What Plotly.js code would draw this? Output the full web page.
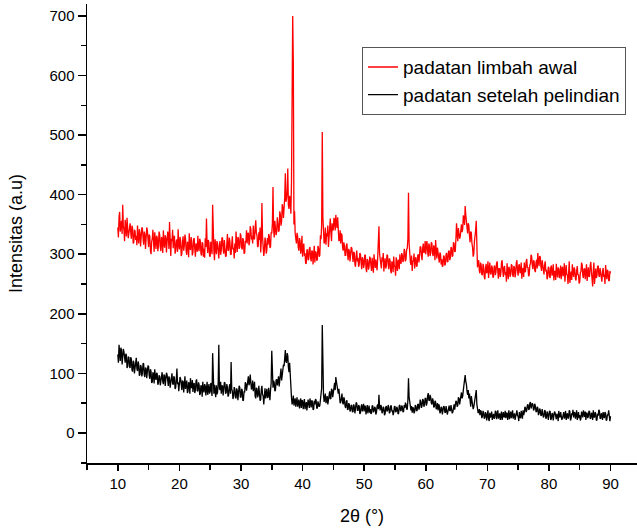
<!DOCTYPE html>
<html>
<head>
<meta charset="utf-8">
<script src="https://cdn.plot.ly/plotly-3.0.1.min.js"></script>
<style>html,body{margin:0;padding:0;background:#fff;}#chart{width:637px;height:532px;}</style>
</head>
<body>
<div id="chart"></div>
<script>
// 2-theta scan grid (degrees)
const scanStart = 10.0;
const scanStep = 0.1;

// padatan limbah awal (10.0 .. 90.0, step 0.1), one row per degree
const limbahAwal = [
345,328,362,371,338,350,356,334,383,347,
341,322,358,344,330,361,349,327,335,352,
352,337,326,348,344,318,320,341,339,324,
331,315,348,329,318,342,336,313,325,345,
343,327,316,338,333,309,322,345,340,318,
312,333,330,306,300,321,326,341,318,304,
337,316,309,331,328,305,314,338,333,312,
305,329,324,302,340,318,311,332,327,303,
316,338,333,309,354,318,297,326,322,341,
310,327,331,301,306,322,325,304,342,316,
308,329,322,297,301,320,330,306,314,333,
326,305,299,321,318,295,335,312,307,329,
320,298,303,325,327,309,296,318,316,304,
331,311,305,326,322,301,298,320,318,296,
309,294,327,312,360,318,302,324,319,297,
296,321,314,300,383,327,305,290,325,311,
300,322,318,304,293,315,322,299,306,327,
328,309,301,324,315,296,297,318,334,306,
307,328,322,300,299,317,330,308,311,293,
318,302,338,316,304,329,326,309,312,335,
330,311,308,327,324,301,302,321,321,340,
318,334,336,315,322,347,342,325,330,318,
348,326,325,344,357,335,332,312,314,337,
324,345,303,322,386,330,318,297,306,328,
322,301,307,327,316,334,330,311,312,337,
335,352,413,341,328,356,345,332,338,362,
352,338,340,372,366,348,355,384,378,361,
372,395,436,388,393,405,444,382,376,398,
392,368,420,560,700,620,350,372,335,324,
318,336,330,312,306,327,322,301,310,331,
296,311,318,297,302,284,285,307,308,290,
292,309,312,294,288,306,305,283,296,314,
286,305,303,289,291,314,310,296,298,332,
325,350,505,362,338,318,322,345,316,335,
330,348,312,327,345,360,336,322,352,340,
342,361,358,340,366,352,344,362,337,322,
325,340,318,335,332,311,306,320,314,298,
298,314,318,301,290,309,305,288,296,312,
310,295,287,304,302,283,279,297,306,288,
294,279,283,302,300,286,275,295,292,277,
282,299,298,276,270,292,289,274,279,296,
293,281,272,294,286,269,300,285,277,291,
284,273,295,316,347,301,290,278,276,295,
288,302,271,284,293,276,280,299,298,283,
275,293,290,273,268,288,285,270,296,280,
279,264,295,283,272,291,287,275,300,286,
284,302,298,287,290,309,305,288,292,308,
310,326,403,318,296,287,282,298,272,289,
288,301,276,292,295,279,281,298,300,286,
296,313,312,297,290,310,318,302,305,322,
300,316,322,305,296,318,314,297,302,320,
318,301,297,315,309,290,324,308,293,311,
305,292,286,303,300,283,292,279,281,298,
296,281,284,300,302,287,288,305,306,290,
294,312,310,296,298,320,318,304,305,326,
352,334,322,344,338,326,330,348,350,337,
342,365,362,349,381,366,356,340,335,352,
348,331,320,338,336,318,312,296,300,321,
328,340,356,312,278,287,290,272,268,286,
282,266,265,284,279,262,258,276,284,268,
272,288,260,275,286,268,266,281,278,261,
262,279,281,265,270,285,288,271,259,276,
276,262,268,286,290,273,262,278,280,265,
270,254,285,271,258,279,276,262,266,283,
281,266,262,280,278,261,268,285,290,272,
264,281,283,268,270,286,259,274,277,262,
286,270,271,288,292,277,278,263,265,282,
284,299,296,281,275,290,288,273,270,286,
291,276,302,287,280,297,295,279,272,290,
283,268,266,282,288,271,274,258,262,279,
277,263,260,278,281,264,268,283,256,270,
272,257,284,270,261,278,275,260,266,281,
258,274,279,263,268,285,254,269,282,266,
265,250,276,288,252,268,271,257,283,269,
262,278,274,259,256,272,280,265,266,251,
253,269,271,286,282,264,260,276,275,258,
268,283,255,270,278,262,263,281,287,271,
259,246,272,286,250,266,276,260,264,279,
281,265,262,277,270,255,254,271,277,262,
266,250,282,268,258,274,271,255,256,272,
268
];

// padatan setelah pelindian (10.0 .. 90.0, step 0.1), one row per degree
const setelahPelindian = [
132,118,148,130,121,143,139,115,126,141,
136,124,118,133,131,109,112,128,127,111,
109,127,124,106,103,121,119,100,112,126,
126,108,104,120,115,96,98,114,111,95,
101,117,116,97,94,110,108,92,99,113,
112,96,91,107,103,84,86,102,98,83,
107,93,89,101,99,81,84,97,95,80,
88,100,102,86,82,98,96,79,86,101,
98,82,79,95,92,76,84,97,100,83,
81,95,93,74,76,90,108,82,85,70,
78,94,91,73,72,88,86,68,80,95,
74,86,88,67,70,85,83,66,92,76,
76,89,69,82,84,67,72,87,90,71,
70,85,81,64,66,80,78,61,86,72,
68,82,79,63,73,86,64,77,82,66,
70,84,76,62,134,80,66,81,74,60,
80,65,68,84,148,75,72,86,66,79,
79,63,70,85,84,66,68,82,76,61,
64,78,82,66,119,74,70,57,62,77,
74,60,58,75,71,55,64,79,77,60,
60,74,72,54,55,70,68,85,82,71,
78,92,95,80,84,98,90,73,76,88,
70,82,86,62,58,76,74,60,64,79,
68,54,56,73,79,65,62,48,70,75,
58,72,74,59,60,76,67,55,72,84,
138,90,76,88,84,70,72,89,90,80,
86,95,78,92,96,108,88,99,104,115,
112,125,139,120,118,134,130,110,102,118,
92,75,60,48,52,63,46,54,58,44,
50,60,44,52,56,41,48,58,42,55,
54,40,46,57,40,50,52,38,45,56,
49,42,58,45,43,55,52,39,40,54,
48,57,55,41,42,53,50,44,46,58,
60,75,181,70,64,52,58,66,50,62,
62,48,54,66,70,57,58,74,72,60,
68,80,84,72,94,86,78,68,66,74,
60,50,52,64,66,51,48,60,56,45,
42,52,55,39,40,50,48,36,38,47,
46,35,36,48,44,33,40,51,50,38,
38,47,45,32,34,44,48,36,40,49,
36,46,44,31,38,47,33,42,46,34,
40,32,34,46,45,35,37,44,42,31,
35,45,48,40,64,44,38,47,44,33,
36,44,42,30,32,43,45,36,38,47,
43,33,35,45,46,36,38,30,34,44,
45,35,36,44,41,32,33,46,47,37,
38,46,44,35,36,47,42,51,48,40,
40,55,92,60,52,40,38,45,34,43,
42,33,36,47,45,37,38,48,48,39,
44,56,52,42,46,57,55,44,48,58,
58,46,50,62,67,55,54,64,60,50,
48,58,55,43,44,54,52,40,42,50,
38,48,46,33,35,44,42,31,37,45,
44,35,34,45,40,31,36,46,46,37,
38,47,42,33,35,46,48,39,44,54,
52,44,46,60,58,48,55,66,68,58,
62,72,78,88,97,86,82,70,64,72,
58,66,50,44,62,54,48,40,44,52,
54,60,72,48,40,34,34,40,30,38,
36,25,28,37,34,24,26,35,32,21,
30,38,24,20,34,26,28,36,22,31,
32,24,26,37,36,23,29,38,24,33,
33,22,27,36,22,30,35,26,28,37,
25,33,34,22,29,38,23,31,36,25,
30,38,24,31,33,22,27,36,38,29,
28,20,35,26,25,37,31,24,38,30,
34,44,42,35,38,47,48,39,40,50,
52,41,44,50,48,38,40,49,45,36,
36,44,42,30,33,41,38,29,30,40,
35,26,28,38,37,24,26,36,33,22,
29,37,36,22,24,33,32,21,27,36,
34,25,23,32,30,20,37,28,26,35,
31,22,25,34,35,24,28,37,22,30,
33,24,27,38,36,21,24,33,30,39,
26,35,34,24,29,38,22,31,35,25,
30,21,24,36,32,26,38,29,27,36,
22,33,34,25,28,37,36,24,25,34,
31,22,38,27,26,35,33,21,22,32,
29,39,37,25,24,33,31,22,35,28,
25,35,33,21,22,31,30,38,27,20,
28
];

const seriesNames = ["padatan limbah awal", "padatan setelah pelindian"];
const xTickVals = [10,20,30,40,50,60,70,80,90];
const yTickVals = [0,100,200,300,400,500,600,700];

function grid(n){ const a=[]; for(let i=0;i<n;i++) a.push(+(scanStart+i*scanStep).toFixed(2)); return a; }

const traces = [
  {x: grid(limbahAwal.length), y: limbahAwal, name: seriesNames[0], type:'scatter', mode:'lines',
   line:{color:'#ff0000', width:1.3}},
  {x: grid(setelahPelindian.length), y: setelahPelindian, name: seriesNames[1], type:'scatter', mode:'lines',
   line:{color:'#000000', width:1.3}}
];

const font = "Arial, 'Liberation Sans', sans-serif";
const layout = {
  width:637, height:532,
  margin:{l:87, r:0, t:4, b:69},
  paper_bgcolor:'#fff', plot_bgcolor:'#fff',
  showlegend:true,
  legend:{x:0.5, y:0.906, xanchor:'left', yanchor:'top', bgcolor:'#fff',
          bordercolor:'#555', borderwidth:1, font:{family:font, size:19, color:'#000'},
          tracegroupgap:0},
  xaxis:{range:[5,94.3], showgrid:false, zeroline:false, showline:true, linecolor:'#000', linewidth:1.5,
         ticks:'outside', ticklen:6, tickwidth:1.5, tickcolor:'#000',
         tickvals:xTickVals, ticktext:xTickVals.map(String),
         minor:{dtick:5, tick0:5, ticks:'outside', ticklen:5, tickwidth:1.5, tickcolor:'#000', showgrid:false},
         tickfont:{family:font, size:15, color:'#000'},
         title:{text:'2θ (°)', font:{family:font, size:18, color:'#000'}, standoff:19}},
  yaxis:{range:[-50.4,720], showgrid:false, zeroline:false, showline:true, linecolor:'#000', linewidth:1.5,
         ticks:'outside', ticklen:8, tickwidth:1.5, tickcolor:'#000',
         tickvals:yTickVals, ticktext:yTickVals.map(String),
         minor:{dtick:50, tick0:50, ticks:'outside', ticklen:5, tickwidth:1.5, tickcolor:'#000', showgrid:false},
         tickfont:{family:font, size:15, color:'#000'},
         title:{text:'Intensitas (a.u)', font:{family:font, size:18, color:'#000'}, standoff:22}}
};

Plotly.newPlot('chart', traces, layout, {displayModeBar:false, staticPlot:true});
</script>
</body>
</html>
